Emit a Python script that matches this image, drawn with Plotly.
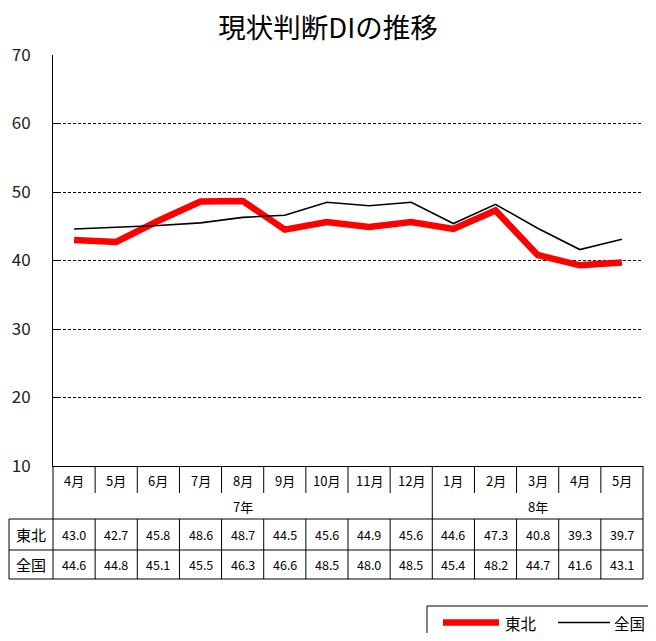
import plotly.graph_objects as go

months = ["4月", "5月", "6月", "7月", "8月", "9月", "10月", "11月", "12月",
          "1月", "2月", "3月", "4月", "5月"]
years = ["7年", "8年"]
year_span = [9, 5]  # number of months in each year group
tohoku = [43.0, 42.7, 45.8, 48.6, 48.7, 44.5, 45.6, 44.9, 45.6, 44.6, 47.3, 40.8, 39.3, 39.7]
zenkoku = [44.6, 44.8, 45.1, 45.5, 46.3, 46.6, 48.5, 48.0, 48.5, 45.4, 48.2, 44.7, 41.6, 43.1]
series_names = ["東北", "全国"]
y_ticks = [10, 20, 30, 40, 50, 60, 70]

# page has an 8px body margin; figure sized to fit the 656x641 window
OFF = 8
W, H = 656 - 2 * OFF, 641 - 2 * OFF
# plot area in page pixels: x 53..643, y 55..466
L = 53 - OFF
T = 55 - OFF
R = W - (643 - OFF)
B = H - (466 - OFF)
PW = W - L - R
PH = H - T - B
n = len(months)
FONT = "Noto Sans CJK JP"


def py(pix):
    return (466 - pix) / PH


def px(pix):
    return (pix - 53) / PW


colors = ["#FF0000", "#000000"]
widths = [6.5, 1.6]

x = list(range(n))
fig = go.Figure()
for name, vals, c, w in zip(series_names, [tohoku, zenkoku], colors, widths):
    fig.add_trace(go.Scatter(x=x, y=vals, mode="lines", name=name, showlegend=False,
                             line=dict(color=c, width=w)))

shapes = []
annotations = []
line = dict(color="black", width=1)

# table rows y (page pixels)
y_top = 466
y_hdr = 493
y_yr = 519
y_r1 = 550
y_r2 = 579
x_left = 9

# month separators in header row
for i in range(1, n):
    shapes.append(dict(type="line", xref="paper", yref="paper",
                       x0=i / n, x1=i / n, y0=py(y_top), y1=py(y_hdr), line=line))
# year boundary through year row
acc = 0
for s in year_span[:-1]:
    acc += s
    shapes.append(dict(type="line", xref="paper", yref="paper",
                       x0=acc / n, x1=acc / n, y0=py(y_hdr), y1=py(y_yr), line=line))
# outer verticals of table
for xv in (0, 1):
    shapes.append(dict(type="line", xref="paper", yref="paper",
                       x0=xv, x1=xv, y0=py(y_top), y1=py(y_r2), line=line))
# data rows: full column separators
for i in range(1, n):
    shapes.append(dict(type="line", xref="paper", yref="paper",
                       x0=i / n, x1=i / n, y0=py(y_yr), y1=py(y_r2), line=line))
# left label column
shapes.append(dict(type="line", xref="paper", yref="paper",
                   x0=px(x_left), x1=px(x_left), y0=py(y_yr), y1=py(y_r2), line=line))
# horizontal lines
for yy in (y_yr, y_r1, y_r2):
    shapes.append(dict(type="line", xref="paper", yref="paper",
                       x0=px(x_left), x1=1, y0=py(yy), y1=py(yy), line=line))


def ann(xv, yv, text, size, xref="x", xanchor="center"):
    return dict(x=xv, y=yv, xref=xref, yref="paper", text=text, showarrow=False,
                xanchor=xanchor, yanchor="middle",
                font=dict(size=size, color="black", family=FONT))


# month labels
for i, m in enumerate(months):
    annotations.append(ann(i, py((y_top + y_hdr) / 2 + 1), m, 13))
# year labels
acc = 0
for yname, s in zip(years, year_span):
    cx = acc + (s - 1) / 2
    acc += s
    annotations.append(ann(cx, py((y_hdr + y_yr) / 2), yname, 13))
# row labels and values
for name, vals, (ya, yb) in zip(series_names, [tohoku, zenkoku], [(y_yr, y_r1), (y_r1, y_r2)]):
    yc = py((ya + yb) / 2)
    annotations.append(ann(px((x_left + 53) / 2), yc, name, 15, xref="paper"))
    for i, v in enumerate(vals):
        annotations.append(ann(i, yc, f"{v:.1f}", 12.5))

# legend (drawn manually, box runs off the right/bottom edge as in the original)
shapes.append(dict(type="rect", xref="paper", yref="paper",
                   x0=px(427), x1=px(700), y0=py(606), y1=py(700),
                   line=dict(color="black", width=1), fillcolor="white"))
leg_y = py(622.5)
leg_pos = [(443, 499, 503), (558, 610, 612)]
for name, c, w, (x0, x1, tx) in zip(series_names, colors, widths, leg_pos):
    shapes.append(dict(type="line", xref="paper", yref="paper",
                       x0=px(x0), x1=px(x1), y0=leg_y, y1=leg_y,
                       line=dict(color=c, width=w)))
    annotations.append(ann(px(tx), leg_y, name, 15.5, xref="paper", xanchor="left"))

fig.update_layout(
    width=W, height=H,
    margin=dict(l=L, r=R, t=T, b=B, autoexpand=False),
    paper_bgcolor="white", plot_bgcolor="white",
    font=dict(family=FONT, color="black"),
    title=dict(text="現状判断DIの推移", x=0.5, xref="container", xanchor="center",
               y=1 - (28.5 - OFF) / H, yref="container", yanchor="middle",
               font=dict(size=27.5, color="black", family=FONT)),
    xaxis=dict(range=[-0.5, n - 0.5], showgrid=False, zeroline=False, automargin=False,
               showticklabels=False, ticks="", showline=True, linecolor="black", linewidth=1),
    yaxis=dict(range=[10, 70], tickvals=y_ticks, showgrid=True, gridcolor="black",
               griddash="3px,2px", gridwidth=1, zeroline=False, automargin=False,
               showline=True, linecolor="black", linewidth=1,
               ticks="inside", ticklen=6, tickcolor="black",
               ticklabelstandoff=18,
               tickfont=dict(size=17, color="#222222", family=FONT)),
    showlegend=False,
    shapes=shapes,
    annotations=annotations,
)

fig.write_html("out.html")
